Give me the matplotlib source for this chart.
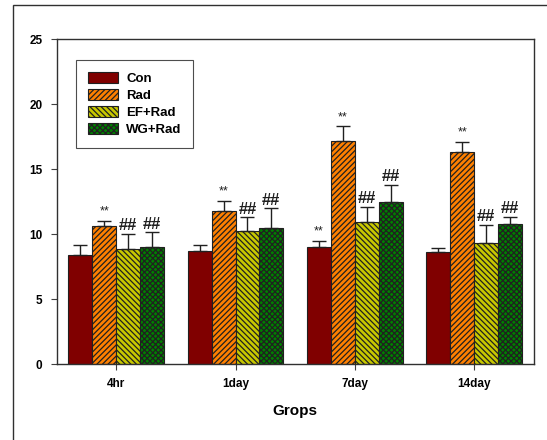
import numpy as np
import matplotlib
matplotlib.use('Agg')
import matplotlib.pyplot as plt
from matplotlib.patches import Rectangle

plt.rcParams['font.family'] = ['Liberation Sans', 'DejaVu Sans']
plt.rcParams['hatch.linewidth'] = 0.9

# Groups and series
groups = ['4hr', '1day', '7day', '14day']
series = ['Con', 'Rad', 'EF+Rad', 'WG+Rad']

con = [8.4, 8.7, 9.0, 8.6]
rad = [10.6, 11.8, 17.2, 16.3]
ef_rad = [8.85, 10.25, 10.95, 9.35]
wg_rad = [9.0, 10.45, 12.5, 10.75]

con_err = [0.75, 0.5, 0.5, 0.35]
rad_err = [0.4, 0.75, 1.1, 0.8]
ef_err = [1.2, 1.05, 1.15, 1.35]
wg_err = [1.15, 1.55, 1.3, 0.6]

# significance marks per series/group
con_marks = ['', '', '**', '']
rad_marks = ['**', '**', '**', '**']
ef_marks = ['##', '##', '##', '##']
wg_marks = ['##', '##', '##', '##']

means = [con, rad, ef_rad, wg_rad]
errs = [con_err, rad_err, ef_err, wg_err]
marks = [con_marks, rad_marks, ef_marks, wg_marks]

colors = ['#800000', '#FF8000', '#C8C800', '#008000']
hatches = [None, '//////', '\\\\\\\\\\\\', 'xxxxxx']

fig = plt.figure(figsize=(5.47, 4.4), dpi=100)
ax = fig.add_axes([0.1033, 0.1727, 0.8727, 0.7378])

x = np.arange(len(groups))
w = 0.2
for i in range(4):
    pos = x + (i - 1.5) * w
    ax.bar(pos, means[i], w, color=colors[i], hatch=hatches[i],
           edgecolor='#202020', linewidth=0.8, label=series[i], zorder=2)
    ax.errorbar(pos, means[i], yerr=[np.zeros(4), errs[i]], fmt='none',
                ecolor='#202020', elinewidth=1.0, capsize=5, capthick=1.0, zorder=3)
    for j in range(4):
        if not marks[i][j]:
            continue
        top = means[i][j] + errs[i][j]
        if marks[i][j] == '**':
            ax.text(pos[j], top + 0.25, '**', ha='center', va='bottom',
                    fontsize=9, color='#202020', zorder=4)
        else:
            ax.text(pos[j], top + 0.05, '##', ha='center', va='bottom',
                    fontsize=12, fontweight='bold', color='#202020', zorder=4)

ax.set_xlim(-0.5, 3.5)
ax.set_ylim(0, 25)
ax.set_yticks([0, 5, 10, 15, 20, 25])
ax.set_xticks(x)
ax.set_xticklabels(groups)
for lab in ax.get_xticklabels() + ax.get_yticklabels():
    lab.set_fontweight('bold')
    lab.set_fontsize(8.5)
ax.tick_params(axis='both', direction='out', length=4, width=0.8, color='#404040', pad=6)
for s in ax.spines.values():
    s.set_color('#303030')
    s.set_linewidth(1.0)

ax.set_xlabel('Grops', fontsize=11, fontweight='bold', labelpad=10)

leg = ax.legend(loc='upper left', bbox_to_anchor=(0.041, 0.937),
                prop={'weight': 'bold', 'size': 9.5}, frameon=True, fancybox=False,
                edgecolor='#202020', handlelength=2.3, handleheight=0.9,
                borderpad=0.9, labelspacing=0.3, handletextpad=0.6, borderaxespad=0)
leg.get_frame().set_linewidth(0.8)

# outer frame around the whole figure
fig.patches.append(Rectangle((13 / 547, -0.1), 1.2, 1.1 - 5 / 440,
                             transform=fig.transFigure, fill=False,
                             edgecolor='#303030', linewidth=1.0))

fig.savefig('out.png', dpi=100)
